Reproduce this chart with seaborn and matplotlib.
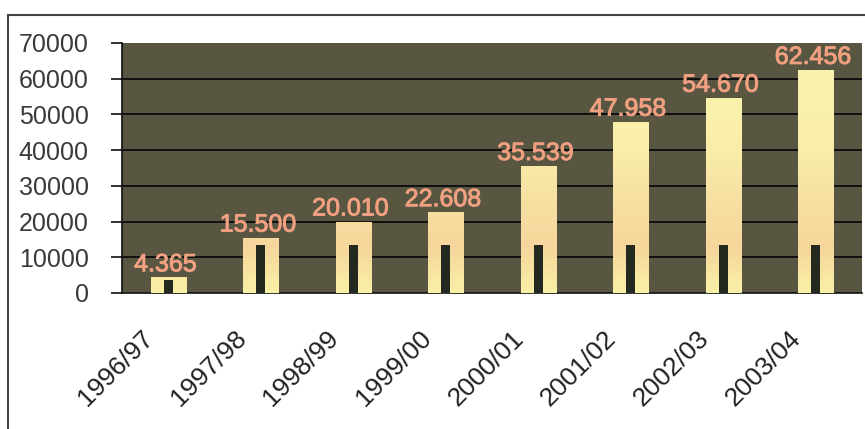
import numpy as np
import pandas as pd
import matplotlib
matplotlib.use("Agg")
import matplotlib.pyplot as plt
import seaborn as sns
from matplotlib.patches import Rectangle
from matplotlib.colors import LinearSegmentedColormap
import matplotlib.patheffects as pe

categories = ["1996/97", "1997/98", "1998/99", "1999/00",
              "2000/01", "2001/02", "2002/03", "2003/04"]
totals = [4365, 15500, 20010, 22608, 35539, 47958, 54670, 62456]
inner = [3600, 13500, 13500, 13500, 13500, 13500, 13500, 13500]
value_labels = ["4.365", "15.500", "20.010", "22.608",
                "35.539", "47.958", "54.670", "62.456"]
yticks = [0, 10000, 20000, 30000, 40000, 50000, 60000, 70000]

df = pd.DataFrame({"year": categories, "total": totals, "inner": inner})

sns.set_theme(style="white")
plt.rcParams["font.family"] = ["Liberation Sans", "DejaVu Sans"]

fig = plt.figure(figsize=(8.65, 4.29), dpi=100)
fig.patch.set_facecolor("white")
ax = fig.add_axes([122 / 865, 1 - 293 / 429, 740 / 865, 250 / 429])
ax.set_facecolor("#585641")

sns.barplot(data=df, x="year", y="total", order=categories, color="#f8efa8",
            width=0.38, saturation=1, ax=ax, zorder=3, edgecolor="none")
n_tot = len(ax.patches)
sns.barplot(data=df, x="year", y="inner", order=categories, color="#23291f",
            width=0.1, saturation=1, ax=ax, zorder=5, edgecolor="none")

ax.set_ylim(0, 70000)
ax.set_xlim(-0.5, len(categories) - 0.5)

# gradient fill on the main bars (pale yellow -> peach -> yellow)
cmap = LinearSegmentedColormap.from_list(
    "g", [(0.0, "#f9f1a6"), (0.18, "#f6d69c"), (0.35, "#f7dfa2"), (0.6, "#f9efaa"), (1.0, "#faf3b0")])
grad = np.linspace(0, 1, 256).reshape(-1, 1)
for p in ax.patches[:n_tot]:
    x0, w = p.get_x(), p.get_width()
    im = ax.imshow(grad, cmap=cmap, aspect="auto", origin="lower",
                   extent=(x0, x0 + w, 0, 70000), zorder=4)
    im.set_clip_path(p)
    p.set_facecolor("none")
ax.set_xlim(-0.5, len(categories) - 0.5)
ax.set_ylim(0, 70000)

# value labels
for i, (v, lab) in enumerate(zip(totals, value_labels)):
    ax.text(i - 0.03, v + 300, lab, ha="center", va="bottom", fontsize=18,
            color="#f2a080", zorder=6,
            path_effects=[pe.withStroke(linewidth=0.7, foreground="#e9a084")])

# grid
for y in yticks[1:-1]:
    ax.axhline(y, color="#111111", lw=1.4, zorder=1)

ax.set_yticks(yticks)
ax.set_yticklabels([str(t) for t in yticks], fontsize=18, color="#3a3a3a")
ax.set_xticks(np.arange(-0.5, len(categories), 1.0))
ax.set_xticklabels([])
# category labels, anchored slightly left of each category centre
ax.set_xticks(np.arange(len(categories)) - 0.2, minor=True)
ax.set_xticklabels(categories, minor=True, rotation=45, ha="right",
                   va="center", rotation_mode="anchor", fontsize=19, color="#222222")
ax.tick_params(axis="x", which="minor", length=0, pad=30)
ax.tick_params(axis="x", which="major", length=8, width=1.2, color="#111111", direction="out")
ax.tick_params(axis="y", length=8, width=1.2, color="#111111", direction="out", pad=16, left=True)
ax.set_xlabel("")
ax.set_ylabel("")

for s in ["top", "right"]:
    ax.spines[s].set_visible(False)
for s in ["left", "bottom"]:
    ax.spines[s].set_visible(True)
    ax.spines[s].set_color("#111111")
    ax.spines[s].set_linewidth(1.2)

# outer frame (extends beyond the image on the right and bottom)
frame = Rectangle((8 / 865, -0.1), 1.2, 1 - 15 / 429 + 0.1, transform=fig.transFigure,
                  fill=False, edgecolor="#444444", lw=1.5, zorder=0)
fig.patches.append(frame)

fig.savefig("out.png", dpi=100, facecolor="white")
